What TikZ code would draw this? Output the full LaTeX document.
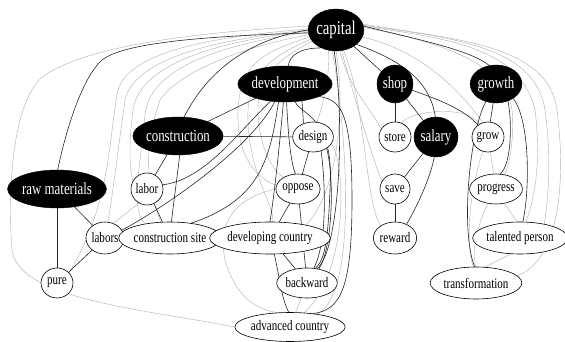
\documentclass[tikz,border=0pt]{standalone}
\usepackage{fontspec}
\setmainfont{Liberation Serif}[FakeStretch=0.76]
\usetikzlibrary{shapes.geometric,backgrounds}
\begin{document}
\begin{tikzpicture}[x=1pt,y=-1pt,
  bn/.style={ellipse,fill=black,draw=black,text=white,inner sep=0pt,font=\fontsize{17}{17}\selectfont},
  wn/.style={ellipse,draw=black,line width=0.6pt,fill=white,inner sep=0pt,font=\fontsize{14.5}{14.5}\selectfont},
  blk/.style={line width=0.6pt,black!85},
  gry/.style={line width=0.4pt,black!32}]
\useasboundingbox (0,0) rectangle (565,342);
% nodes
\node[bn,minimum width=52,minimum height=42,font=\fontsize{19.5}{19.5}\selectfont] (cap) at (336,30) {capital};
\node[bn,minimum width=82,minimum height=36] (dev) at (285,84) {development};
\node[bn,minimum width=36,minimum height=38] (shop) at (395,84) {shop};
\node[bn,minimum width=50,minimum height=38] (growth) at (496,84) {growth};
\node[bn,minimum width=76,minimum height=38] (cons) at (178,136) {construction};
\node[wn,minimum width=38,minimum height=30] (design) at (313,137) {design};
\node[wn,minimum width=32,minimum height=30] (store) at (395,137) {store};
\node[bn,minimum width=44,minimum height=40] (salary) at (436,137) {salary};
\node[wn,minimum width=32,minimum height=30] (grow) at (488,137) {grow};
\node[bn,minimum width=84,minimum height=38] (raw) at (57,189) {raw materials};
\node[wn,minimum width=32,minimum height=32] (labor) at (147,189) {labor};
\node[wn,minimum width=38,minimum height=32] (labors) at (105,238) {labors};
\node[wn,minimum width=84,minimum height=32] (csite) at (170,238) {construction site};
\node[wn,minimum width=32,minimum height=30] (pure) at (57,283) {pure};
\node[wn,minimum width=42,minimum height=30] (oppose) at (298,189) {oppose};
\node[wn,minimum width=96,minimum height=32] (devc) at (270,238) {developing country};
\node[wn,minimum width=50,minimum height=30] (backward) at (307,283) {backward};
\node[wn,minimum width=86,minimum height=29] (adv) at (290,327) {advanced country};
\node[wn,minimum width=30,minimum height=30] (save) at (395,189) {save};
\node[wn,minimum width=42,minimum height=32] (reward) at (395,238) {reward};
\node[wn,minimum width=48,minimum height=30] (progress) at (496,189) {progress};
\node[wn,minimum width=78,minimum height=32] (talent) at (520,238) {talented person};
\node[wn,minimum width=74,minimum height=32] (trans) at (476,283) {transformation};
\begin{pgfonlayer}{background}
% ---------- gray edges ----------
\draw[gry] (cap.172) .. controls (200,32) and (90,45) .. (45,75) .. controls (10,100) and (8,200) .. (12,250) .. controls (18,300) and (150,310) .. (adv.180);
\draw[gry] (cap.178) .. controls (220,36) and (130,50) .. (118,90) .. controls (108,140) and (112,200) .. (pure.40);
\draw[gry] (cap.180) .. controls (230,38) and (135,55) .. (125,100) .. controls (118,150) and (112,200) .. (labors.80);
\draw[gry] (cap.182) .. controls (230,40) and (140,60) .. (133,110) .. controls (128,150) and (130,170) .. (labor.150);
\draw[gry] (cap.184) .. controls (240,42) and (150,62) .. (145,115) .. controls (140,170) and (130,210) .. (csite.150);
\draw[gry] (cap.190) .. controls (250,45) and (180,70) .. (160,100) .. controls (150,130) and (140,170) .. (csite.120);
\draw[gry] (cap.195) .. controls (270,50) and (240,60) .. (238,110) .. controls (236,160) and (260,180) .. (oppose.170);
\draw[gry] (cap.200) .. controls (275,55) and (250,70) .. (248,110) .. controls (246,170) and (275,205) .. (devc.80);
\draw[gry] (cap.205) .. controls (280,58) and (258,75) .. (258,110) .. controls (258,140) and (270,170) .. (oppose.140);
\draw[gry] (cap.250) .. controls (330,70) and (325,100) .. (design.75);
\draw[gry] (cap.-100) .. controls (345,120) and (360,290) .. (adv.25);
\draw[gry] (cap.-90) .. controls (345,100) and (340,190) .. (devc.20);
\draw[gry] (cap.-80) .. controls (350,90) and (372,110) .. (store.150);
\draw[gry] (cap.-75) .. controls (355,100) and (370,150) .. (save.150);
\draw[gry] (cap.-70) .. controls (365,100) and (365,200) .. (reward.140);
\draw[gry] (cap.-15) .. controls (420,50) and (460,90) .. (grow.110);
\draw[gry] (cap.8) .. controls (440,38) and (520,45) .. (535,110) .. controls (540,150) and (538,190) .. (talent.70);
\draw[gry] (cap.10) .. controls (450,38) and (535,45) .. (545,110) .. controls (552,160) and (548,200) .. (talent.30);
\draw[gry] (cap.12) .. controls (460,40) and (548,45) .. (557,110) .. controls (566,180) and (560,260) .. (trans.10);
\draw[gry] (cap.5) .. controls (430,40) and (505,60) .. (512,110) .. controls (515,140) and (508,170) .. (progress.60);
\draw[gry] (store.65) .. controls (410,110) and (470,105) .. (grow.125);
\draw[gry] (grow) -- (progress);
\draw[gry] (grow.-110) .. controls (470,190) and (465,240) .. (trans.100);
\draw[gry] (progress.-120) .. controls (480,220) and (470,250) .. (trans.90);
\draw[gry] (progress.-60) -- (talent.100);
\draw[gry] (talent.-120) -- (trans.60);
\draw[gry] (labors.60) -- (labor.-120);
\draw[gry] (oppose.180) .. controls (250,195) and (215,210) .. (225,260) .. controls (235,295) and (255,310) .. (adv.130);
\draw[gry] (backward) -- (adv);
\draw[gry] (design.-20) .. controls (345,160) and (350,270) .. (adv.45);
% ---------- black edges ----------
\draw[blk] (cap.186) .. controls (210,36) and (125,42) .. (102,60) .. controls (82,78) and (66,130) .. (raw.88);
\draw[blk] (cap.180) .. controls (245,40) and (205,75) .. (cons.72);
\draw[blk] (cap.230) .. controls (300,48) and (290,55) .. (dev.80);
\draw[blk] (cap) -- (shop);
\draw[blk] (cap.8) .. controls (420,40) and (470,50) .. (growth.110);
\draw[blk] (cap.-35) .. controls (400,60) and (430,80) .. (salary.92);
\draw[blk] (cap.-95) .. controls (345,120) and (340,250) .. (backward.55);
\draw[blk] (shop) -- (store);
\draw[blk] (shop) -- (salary);
\draw[blk] (shop.-20) .. controls (440,100) and (465,110) .. (grow.130);
\draw[blk] (growth) -- (grow);
\draw[blk] (growth.-55) .. controls (512,120) and (512,165) .. (progress.75);
\draw[blk] (growth.-40) .. controls (530,120) and (530,190) .. (talent.80);
\draw[blk] (growth.-120) .. controls (470,130) and (460,230) .. (trans.95);
\draw[blk] (salary) -- (save);
\draw[blk] (salary.-95) .. controls (430,180) and (415,210) .. (reward.50);
\draw[blk] (save) -- (reward);
\draw[blk] (dev) -- (cons);
\draw[blk] (dev.-130) .. controls (240,130) and (205,180) .. (labor.15);
\draw[blk] (dev.-120) .. controls (250,150) and (160,210) .. (labors.25);
\draw[blk] (dev.-110) .. controls (270,160) and (260,200) .. (csite.35);
\draw[blk] (dev.-45) -- (design.125);
\draw[blk] (dev.-85) .. controls (288,130) and (290,160) .. (oppose.100);
\draw[blk] (dev.-95) .. controls (280,140) and (275,190) .. (devc.90);
\draw[blk] (dev.-60) .. controls (300,115) and (335,115) .. (330,190) .. controls (328,240) and (325,260) .. (backward.60);
\draw[blk] (dev.-20) .. controls (340,100) and (352,110) .. (352,200) .. controls (352,290) and (340,310) .. (adv.30);
\draw[blk] (cons) -- (design);
\draw[blk] (cons) -- (labor);
\draw[blk] (cons.-85) .. controls (178,170) and (174,200) .. (csite.85);
\draw[blk] (labor) -- (csite);
\draw[blk] (raw) -- (labors);
\draw[blk] (raw) -- (pure);
\draw[blk] (labors) -- (pure);
\draw[blk] (design) -- (oppose);
\draw[blk] (design.-60) .. controls (325,180) and (328,240) .. (backward.65);
\draw[blk] (design.-40) .. controls (335,180) and (332,250) .. (backward.50);
\draw[blk] (oppose) -- (devc);
\draw[blk] (oppose) -- (backward);
\draw[blk] (devc) -- (backward);
\draw[blk] (devc.-75) .. controls (280,280) and (282,300) .. (adv.95);
\end{pgfonlayer}
\end{tikzpicture}
\end{document}
